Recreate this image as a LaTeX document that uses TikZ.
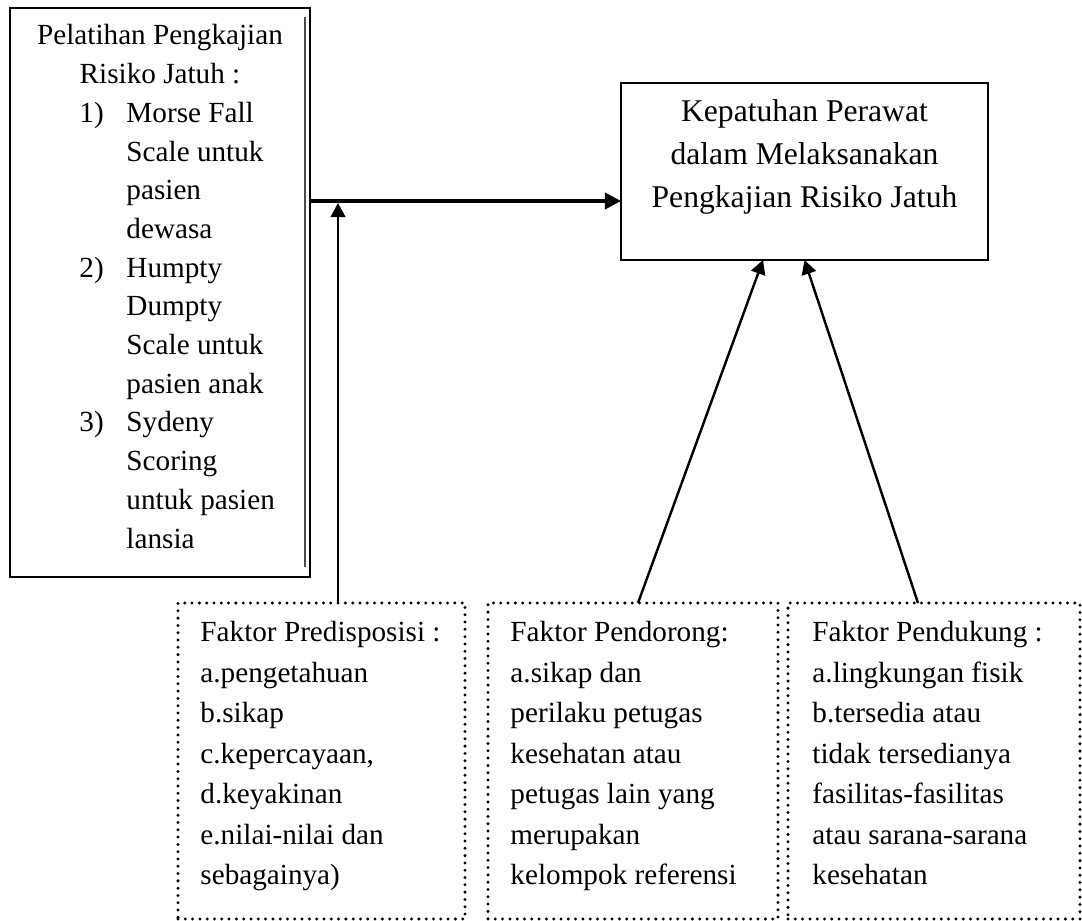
\documentclass[tikz,border=0pt]{standalone}
\usepackage{fontspec}
\setmainfont{Liberation Serif}
\usetikzlibrary{calc,arrows.meta}
\begin{document}
\begin{tikzpicture}[x=0.411pt,y=-0.411pt,
  solidbox/.style={draw, line width=0.7pt, inner sep=0pt, outer sep=0pt, anchor=north west},
  dotbox/.style={draw, line width=1.35pt, dash pattern=on 0pt off 3pt, line cap=round, inner sep=0pt, outer sep=0pt, anchor=north west},
  txt/.style={inner sep=0pt, anchor=base west, font=\fontsize{12}{14}\selectfont},
  ctxt/.style={inner sep=0pt, anchor=base, font=\fontsize{12}{14}\selectfont},
  btxt/.style={inner sep=0pt, anchor=base, font=\fontsize{13}{15}\selectfont},
  conn/.style={line width=1pt, -{Triangle[length=5.8pt,width=6pt]}},
  mainconn/.style={line width=1.5pt, -{Triangle[length=6.6pt,width=6.6pt]}}
]
\useasboundingbox (0,0) rectangle (1082,921);

% left box
\node[solidbox, minimum width=300*0.411pt, minimum height=569*0.411pt] (L) at (10,8) {};
\draw[line width=0.45pt, black!70] ($(L.north east)+(-5,9)$) -- ($(L.south east)+(-5,-10)$);
\node[ctxt] (l1) at (160,45) {Pelatihan Pengkajian};
\node[ctxt] (l2) at (160,83.7) {Risiko Jatuh :};
\node[txt] (n1) at (79,122.4) {1)};
\node[txt] (l3) at (126,122.4) {Morse Fall};
\node[txt] (l4) at (126,161.1) {Scale untuk};
\node[txt] (l5) at (126,199.8) {pasien};
\node[txt] (l6) at (126,238.5) {dewasa};
\node[txt] (n2) at (79,277.2) {2)};
\node[txt] (l7) at (126,277.2) {Humpty};
\node[txt] (l8) at (126,315.9) {Dumpty};
\node[txt] (l9) at (126,354.6) {Scale untuk};
\node[txt] (l10) at (126,393.3) {pasien anak};
\node[txt] (n3) at (79,432) {3)};
\node[txt] (l11) at (126,432) {Sydeny};
\node[txt] (l12) at (126,470.7) {Scoring};
\node[txt] (l13) at (126,509.4) {untuk pasien};
\node[txt] (l14) at (126,548.1) {lansia};

% right box
\node[solidbox, minimum width=367*0.411pt, minimum height=177*0.411pt] (R) at (621,83) {};
\node[btxt] (r1) at (804.5,122) {Kepatuhan Perawat};
\node[btxt] (r2) at (804.5,165) {dalam Melaksanakan};
\node[btxt] (r3) at (804.5,208) {Pengkajian Risiko Jatuh};

% dotted boxes
\node[dotbox, minimum width=287*0.411pt, minimum height=316*0.411pt] (D1) at (178,603) {};
\node[dotbox, minimum width=290*0.411pt, minimum height=316*0.411pt] (D2) at (488,603) {};
\node[dotbox, minimum width=292*0.411pt, minimum height=316*0.411pt] (D3) at (788,603) {};

\foreach \s [count=\i from 0] in {Faktor Predisposisi :, a.pengetahuan, b.sikap, {c.kepercayaan,}, d.keyakinan, e.nilai-nilai dan, sebagainya)}
  \node[txt] (pa\i) at (200,642+40.5*\i) {\s};
\foreach \s [count=\i from 0] in {Faktor Pendorong:, a.sikap dan, perilaku petugas, kesehatan atau, petugas lain yang, merupakan, kelompok referensi}
  \node[txt] (pb\i) at (510,642+40.5*\i) {\s};
\foreach \s [count=\i from 0] in {Faktor Pendukung :, a.lingkungan fisik, b.tersedia atau, tidak tersedianya, fasilitas-fasilitas, atau sarana-sarana, kesehatan}
  \node[txt] (pc\i) at (812,642+40.5*\i) {\s};

% connectors
\coordinate (hs) at ($(L.north east)+(0,193)$);
\coordinate (he) at (R.west |- hs);
\draw[mainconn] (hs) -- (he);
\coordinate (vs) at ($(D1.north west)+(160,0)$);
\coordinate (ve) at ($(vs |- hs)+(0,2)$);
\draw[conn] (vs) -- (ve);
\coordinate (d2s) at ($(D2.north west)+(150,0)$);
\coordinate (d2e) at ($(R.south west)+(142,0)$);
\draw[conn] (d2s) -- (d2e);
\coordinate (d3s) at ($(D3.north west)+(130,0)$);
\draw[conn] (d3s) -- (R.south);
\end{tikzpicture}
\end{document}
